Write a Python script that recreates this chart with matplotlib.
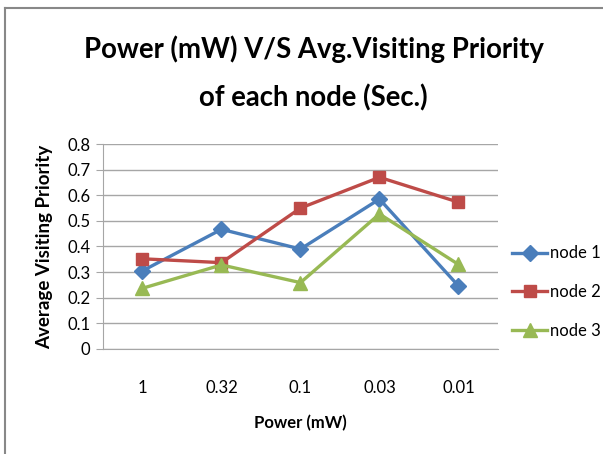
import matplotlib
matplotlib.use("Agg")
import matplotlib.pyplot as plt
from matplotlib.lines import Line2D

plt.rcParams['font.family'] = ['Lato', 'DejaVu Sans']

power = ["1", "0.32", "0.1", "0.03", "0.01"]
node1 = [0.305, 0.467, 0.39, 0.585, 0.246]
node2 = [0.352, 0.337, 0.55, 0.67, 0.573]
node3 = [0.237, 0.328, 0.259, 0.527, 0.33]

series = [
    ("node 1", node1, "#4A7EBB", "D", 8),
    ("node 2", node2, "#BE4B48", "s", 9),
    ("node 3", node3, "#98B954", "^", 10)]

fig = plt.figure(figsize=(6.03, 4.54), dpi=100)
ax = fig.add_axes([0.1708, 0.2313, 0.655, 0.4515])

x = range(len(power))
for name, vals, color, marker, ms in series:
    ax.plot(x, vals, color=color, lw=2.4, marker=marker, ms=ms,
            mec=color, mfc=color, label=name)

ax.set_xlim(-0.5, len(power) - 0.5)
ax.set_ylim(0, 0.8)
ax.set_yticks([i / 10 for i in range(9)])
ax.set_yticklabels(["0" if i == 0 else f"0.{i}" for i in range(9)])
ax.set_xticks(list(x))
ax.set_xticklabels(power)
ax.grid(axis='y', color='#a6a6a6', lw=1)
ax.set_axisbelow(True)
for side in ['top', 'right']:
    ax.spines[side].set_visible(False)
ax.spines['left'].set_color('#a6a6a6')
ax.spines['bottom'].set_color('#a6a6a6')
ax.tick_params(axis='y', length=5, color='#a6a6a6', labelsize=12, pad=4)
ax.tick_params(axis='x', length=0, labelsize=12, pad=22)

ax.set_xlabel("Power (mW)", fontsize=12, fontweight='bold', labelpad=14)
ax.set_ylabel("Average Visiting Priority", fontsize=13.5, fontweight='bold', labelpad=10)

fig.text(0.52, 0.839, "Power (mW) V/S Avg.Visiting Priority\nof each node (Sec.)",
         ha='center', va='center', fontsize=19.8, fontweight='bold', linespacing=1.95)

fig.legend(loc='center left', bbox_to_anchor=(512 / 603, 1 - 292 / 454),
           frameon=False, fontsize=12, handlelength=2.1, handletextpad=0.15,
           labelspacing=1.35, borderpad=0, borderaxespad=0)

fig.add_artist(Line2D([5 / 603, 1], [1 - 8 / 454, 1 - 8 / 454], color='#888888', lw=1.5))
fig.add_artist(Line2D([5 / 603, 5 / 603], [0, 1 - 8 / 454], color='#888888', lw=1.5))

fig.savefig("out.png", dpi=100)
